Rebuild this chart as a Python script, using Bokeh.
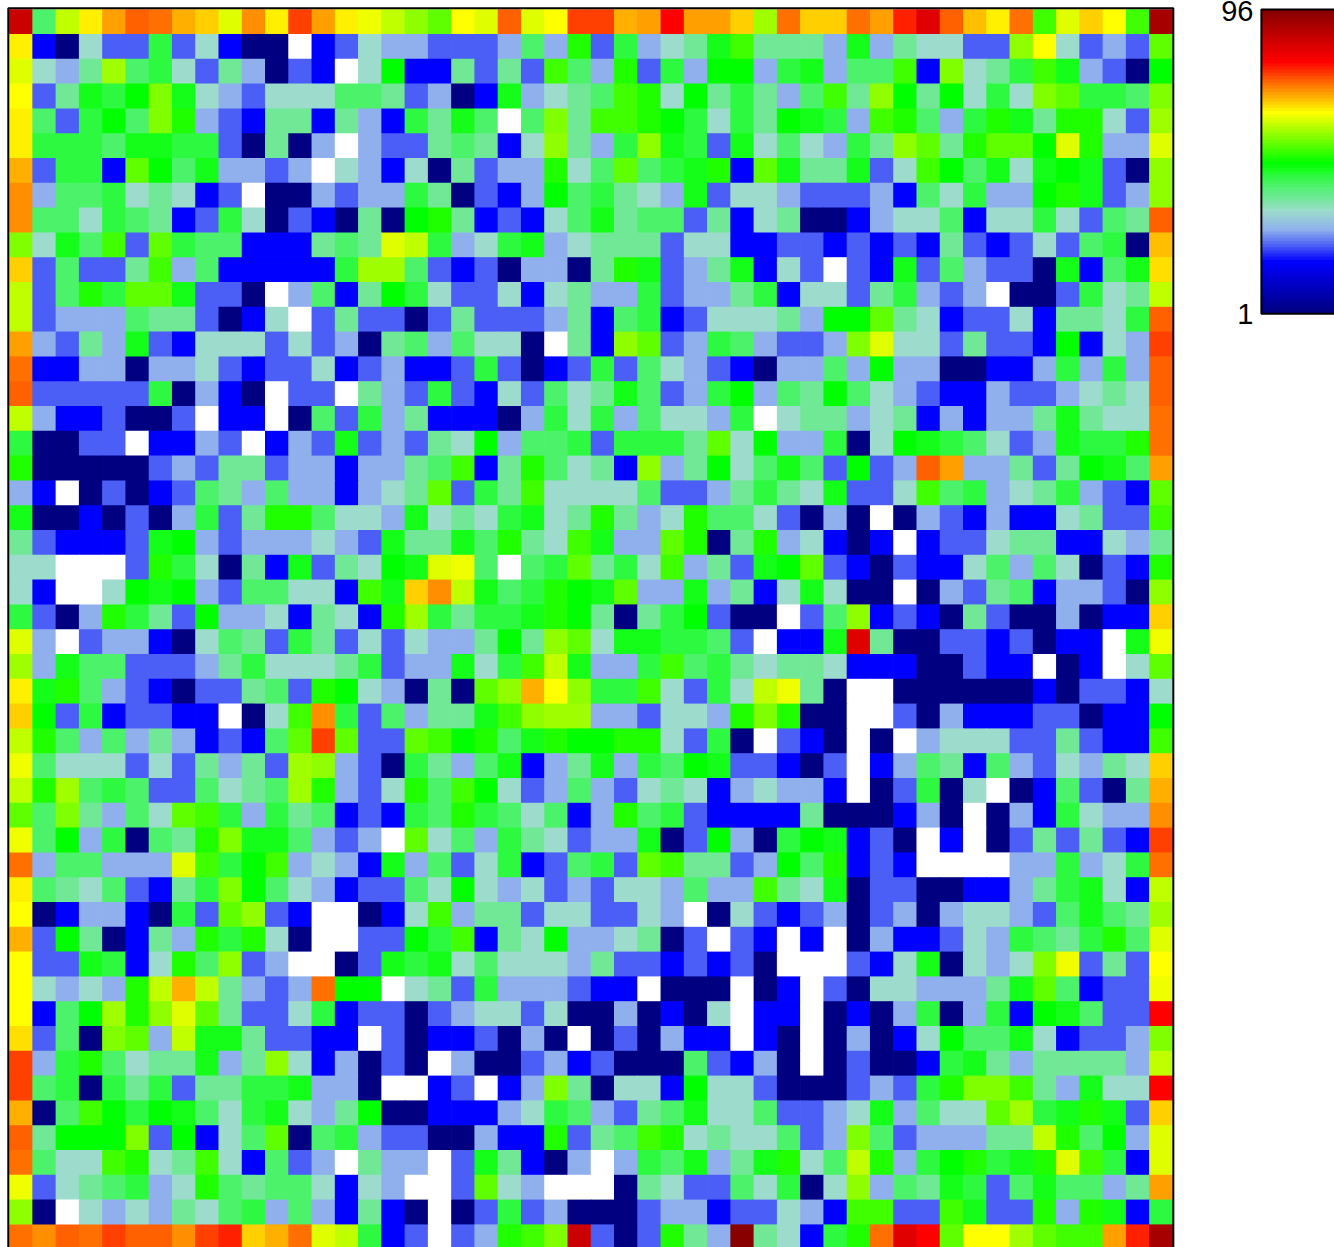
from bokeh.plotting import figure
from bokeh.models import ColumnDataSource, LinearColorMapper, Range1d, FixedTicker, LinearAxis
from bokeh.layouts import row
from bokeh.embed import file_html
from bokeh.resources import INLINE

# Heatmap values, row by row from the top; 0 marks an empty (white) cell.
r01 = [87,41,60,65,70,74,73,69,67,62,71,65,76,70,65,63,60,57,54,64,62,74,62,64,76,76,69,70,80,70,70,67,58,73,67,67,73,70,78,84,74,68,65,73,52,62,67,64,52,92]
r02 = [65,17,1,33,22,22,44,22,33,17,1,1,0,17,22,33,27,27,22,22,22,27,41,27,50,22,44,27,33,37,46,52,37,37,37,27,46,27,37,33,33,22,22,57,64,33,22,27,22,54]
r03 = [62,33,27,37,58,41,44,33,22,37,27,1,22,17,0,33,48,17,17,37,22,37,22,52,41,27,50,22,44,27,48,48,27,44,46,27,41,41,52,17,56,33,37,44,52,46,27,22,1,48]
r04 = [64,22,37,46,44,48,56,46,33,27,22,33,33,33,41,41,37,22,27,1,17,46,27,33,37,41,52,50,33,48,37,44,37,27,41,52,37,57,48,37,48,33,44,33,56,54,44,44,41,56]
r05 = [65,41,22,44,48,41,56,50,27,22,17,37,37,17,37,27,17,44,37,46,41,0,41,56,37,52,52,50,48,44,33,44,37,48,46,44,27,52,50,41,27,44,50,46,37,50,50,33,22,58]
r06 = [65,44,44,44,41,46,46,44,44,22,1,37,1,27,0,27,22,22,37,41,37,17,33,57,37,27,44,57,46,44,22,46,33,41,33,27,44,37,57,54,37,50,54,54,48,62,50,27,27,62]
r07 = [69,22,44,44,17,54,48,41,46,27,27,22,27,0,33,27,17,33,1,37,22,27,27,50,33,41,54,41,44,46,50,17,54,46,37,37,46,22,33,52,48,41,46,33,46,48,46,22,1,57]
r08 = [71,27,41,41,44,33,37,33,17,22,0,1,1,27,22,27,27,44,37,1,22,17,27,48,41,44,37,33,27,46,22,33,33,27,22,22,22,27,17,41,33,44,27,27,48,50,46,22,27,57]
r09 = [71,41,41,33,44,41,37,17,22,44,33,1,22,17,1,37,1,48,50,37,17,22,17,33,41,46,37,41,41,22,37,17,33,37,1,1,17,27,33,33,41,17,33,33,44,33,22,41,37,74]
r10 = [56,33,46,41,52,22,54,44,41,41,17,17,17,37,41,37,62,60,44,27,33,44,46,27,33,37,37,37,22,33,33,17,17,22,22,17,22,17,22,17,37,22,17,22,33,22,41,44,1,68]
r11 = [67,22,41,22,22,37,52,27,41,17,17,17,17,17,44,58,58,41,22,17,22,1,27,27,1,37,50,46,22,27,37,46,17,33,22,0,22,17,46,22,41,27,22,22,1,46,17,41,46,66]
r12 = [60,22,41,50,44,54,54,46,22,22,1,0,27,41,17,37,48,44,33,22,22,33,17,33,37,27,27,44,22,27,27,37,44,17,33,33,22,37,44,27,22,27,0,1,1,22,44,33,37,60]
r13 = [60,22,27,27,27,41,37,37,22,1,17,33,0,22,37,22,22,1,22,37,22,22,22,27,37,17,41,44,17,22,33,33,33,37,27,48,48,54,37,33,17,22,22,33,17,37,37,33,44,74]
r14 = [70,27,22,37,27,46,22,17,33,33,33,22,33,22,27,1,37,41,27,41,33,33,1,0,37,17,57,54,22,27,44,41,27,22,22,27,56,62,33,33,22,37,22,22,17,48,17,33,27,76]
r15 = [73,17,17,27,27,1,27,27,33,22,17,22,22,33,17,22,27,17,17,22,44,22,1,17,22,44,22,41,33,27,22,17,1,27,27,41,27,48,27,27,1,1,17,17,27,44,27,44,27,74]
r16 = [74,22,22,22,22,22,44,1,27,17,1,0,22,22,0,37,27,22,44,22,17,33,22,41,33,37,46,41,22,27,44,48,27,41,37,48,41,33,27,22,17,17,27,22,22,27,33,37,33,74]
r17 = [60,27,17,17,22,1,1,22,0,17,17,0,1,41,22,44,27,37,17,17,17,1,27,44,33,44,27,41,33,33,27,44,0,33,37,37,27,33,37,17,27,17,27,27,37,46,37,33,33,73]
r18 = [44,1,1,22,22,0,17,17,27,22,0,17,27,22,46,22,27,22,37,33,48,27,41,41,44,22,44,44,44,37,54,33,48,27,27,44,1,33,48,46,44,41,33,22,27,46,44,44,50,73]
r19 = [50,1,1,1,1,1,22,27,22,37,37,22,27,27,17,27,27,37,41,52,17,37,50,41,33,37,17,57,27,37,48,33,41,46,41,22,48,22,27,74,70,27,27,37,22,37,48,46,41,70]
r20 = [27,17,0,1,22,1,17,22,41,37,27,41,27,27,17,27,33,37,54,22,44,37,52,33,33,33,33,41,22,22,27,37,44,37,33,46,22,22,33,52,41,44,27,33,37,44,27,22,17,54]
r21 = [46,1,1,17,1,22,1,27,44,22,37,50,50,41,33,33,27,46,33,37,33,44,46,33,37,50,37,27,33,50,41,41,33,22,1,27,1,0,1,27,22,17,27,17,17,33,37,22,22,52]
r22 = [37,22,17,17,17,22,46,48,27,22,27,27,27,33,27,22,46,37,37,46,41,50,37,33,52,46,27,27,54,50,1,37,50,27,33,17,1,17,0,17,22,22,33,37,37,17,17,33,27,37]
r23 = [33,33,0,0,0,22,50,44,33,1,37,17,46,22,37,33,48,46,62,63,41,0,41,44,54,37,44,33,52,27,37,22,46,48,54,22,17,1,22,17,17,33,41,27,41,33,1,22,17,50]
r24 = [33,17,0,0,33,48,46,48,27,22,41,41,33,33,17,52,46,67,71,60,46,41,44,50,48,46,54,27,27,46,27,37,17,33,46,33,1,1,0,1,27,22,37,41,17,27,27,22,1,57]
r25 = [44,22,1,27,50,44,37,22,48,27,27,33,17,37,33,17,50,58,44,37,44,44,46,50,48,37,1,37,44,48,22,1,1,0,22,41,57,17,22,17,1,37,22,1,1,27,1,17,17,67]
r26 = [62,27,0,22,27,27,17,1,33,41,37,22,44,37,22,33,22,33,27,27,37,48,37,57,54,33,46,46,44,44,41,22,0,17,17,46,84,37,1,1,22,22,17,22,1,17,17,0,46,63]
r27 = [58,27,46,41,41,22,22,22,27,37,44,33,33,33,37,44,22,27,27,46,33,44,52,60,46,27,27,44,52,41,44,37,33,37,37,33,17,17,17,1,1,22,17,17,0,1,17,0,33,54]
r28 = [65,46,50,41,27,22,17,1,22,22,37,41,22,50,48,33,27,1,37,1,54,57,69,64,57,44,44,52,33,22,44,33,60,63,37,1,0,0,1,1,1,1,1,1,17,1,22,22,17,33]
r29 = [67,48,22,44,17,22,22,17,17,0,1,33,52,71,44,22,41,27,37,37,46,52,57,58,58,27,27,22,33,33,27,50,56,50,1,1,0,0,22,1,27,17,17,17,22,22,1,17,17,48]
r30 = [60,50,41,27,41,27,37,27,17,22,17,41,54,76,54,22,22,54,52,48,50,41,46,50,48,48,50,50,33,22,44,1,0,22,17,1,0,1,0,27,33,33,33,22,22,37,22,17,17,52]
r31 = [63,41,33,33,33,22,33,22,37,27,37,22,58,57,27,22,1,44,37,27,41,46,17,27,37,46,27,44,41,48,46,22,22,17,1,22,0,17,27,41,37,17,41,27,22,33,27,37,33,67]
r32 = [60,50,58,41,44,41,22,22,41,33,37,41,58,50,27,22,33,50,41,52,48,33,22,27,41,27,22,33,37,33,17,27,33,27,27,17,0,1,22,44,1,33,0,1,17,41,22,1,37,69]
r33 = [54,41,56,37,27,41,33,54,52,44,27,44,37,41,17,22,17,44,41,50,44,41,33,41,17,27,50,41,44,22,17,17,17,17,37,1,1,1,17,27,1,0,1,27,17,44,33,27,27,71]
r34 = [63,41,48,27,44,1,41,37,50,56,46,46,41,27,22,27,0,54,33,41,27,44,37,33,22,27,27,46,1,22,48,27,1,44,48,46,17,22,1,0,17,0,1,22,37,22,37,22,17,76]
r35 = [73,27,41,41,27,27,27,62,52,44,48,52,27,33,27,17,46,27,41,22,33,44,17,22,41,44,22,54,52,37,37,22,27,48,41,50,17,22,17,0,0,0,0,27,27,44,27,33,44,73]
r36 = [65,41,37,33,41,22,17,37,44,56,48,41,33,27,17,22,22,41,33,48,33,27,33,22,27,22,33,33,27,41,27,27,52,37,33,46,1,22,22,1,1,17,17,27,37,44,46,33,17,60]
r37 = [64,1,17,27,27,17,1,44,22,54,57,22,17,0,0,1,17,33,52,27,37,37,22,33,33,22,22,33,27,0,1,33,22,17,22,27,1,22,27,1,27,33,33,27,22,41,46,41,37,58]
r38 = [69,22,48,37,1,17,37,27,50,44,50,33,1,0,0,22,22,48,44,52,17,37,33,48,27,27,33,37,1,22,0,22,17,0,17,0,1,27,17,17,22,33,27,44,41,37,44,50,41,62]
r39 = [64,22,22,46,44,17,33,50,41,57,22,27,0,0,1,22,46,44,46,33,41,33,33,33,27,37,22,22,17,22,17,22,1,0,0,0,22,17,33,46,1,33,27,33,56,63,22,37,22,64]
r40 = [64,33,27,33,27,50,60,69,60,37,27,22,27,73,48,48,0,33,37,22,44,27,27,27,22,17,17,0,1,1,1,0,1,17,0,22,1,33,33,27,27,27,37,46,54,41,17,22,22,63]
r41 = [64,17,41,48,58,50,57,62,54,37,22,22,33,44,17,22,22,1,22,27,33,33,22,33,1,1,27,1,17,1,33,0,17,17,0,1,17,1,27,44,1,27,44,17,48,46,41,22,22,80]
r42 = [66,22,41,1,56,54,27,60,46,46,37,22,22,17,17,0,22,1,17,17,22,1,27,1,0,1,22,1,27,17,17,0,17,1,0,1,27,1,17,33,48,41,41,46,33,17,22,22,27,56]
r43 = [76,27,44,50,41,33,37,37,46,27,37,57,33,17,27,1,22,1,0,27,1,1,22,27,17,22,1,1,1,41,22,17,27,1,0,1,22,1,1,17,44,46,37,27,37,37,37,37,27,60]
r44 = [76,41,44,1,44,37,44,22,37,37,44,44,46,27,27,1,0,0,17,22,0,17,27,56,37,1,33,33,17,48,33,33,22,1,1,1,22,27,22,44,50,56,56,52,37,27,46,33,33,80]
r45 = [69,1,41,52,48,44,48,46,41,33,44,46,33,27,37,48,1,1,17,17,17,27,33,44,41,27,22,37,41,46,33,33,41,22,22,27,33,46,27,41,33,33,54,58,44,46,50,46,22,67]
r46 = [74,37,48,48,48,56,22,48,17,33,41,54,1,41,44,27,22,22,1,1,27,17,17,50,22,37,41,52,50,33,37,33,33,41,22,27,56,41,22,27,27,27,37,37,60,50,41,48,27,62]
r47 = [73,41,33,33,52,50,33,37,52,33,17,41,22,27,0,37,27,27,0,22,46,37,17,1,27,0,27,44,41,46,27,37,46,50,33,41,60,50,27,44,48,50,44,46,50,62,52,44,17,62]
r48 = [63,22,33,37,41,44,27,33,50,41,37,41,41,33,17,33,27,0,0,22,54,33,27,0,0,0,1,37,33,22,22,41,33,44,1,33,57,27,41,37,46,44,22,41,46,41,41,27,37,70]
r49 = [57,1,0,33,27,33,27,37,33,41,44,27,41,27,17,37,17,1,0,1,22,44,22,27,1,1,1,22,27,27,17,22,22,33,27,17,52,52,22,22,52,46,22,22,50,27,50,46,17,44]
r50 = [73,71,74,73,76,74,74,71,76,78,67,69,73,62,60,44,17,22,0,22,27,50,52,56,87,22,1,22,50,37,27,96,37,33,17,44,50,73,84,80,54,64,64,58,54,52,52,70,78,92]

rows = [r01,r02,r03,r04,r05,r06,r07,r08,r09,r10,r11,r12,r13,r14,r15,r16,r17,r18,r19,r20,
        r21,r22,r23,r24,r25,r26,r27,r28,r29,r30,r31,r32,r33,r34,r35,r36,r37,r38,r39,r40,
        r41,r42,r43,r44,r45,r46,r47,r48,r49,r50]
scale_min = 1
scale_max = 96
scale_labels = {"low": "1", "high": "96"}

# colour scale: anchors (value, r, g, b), one palette entry per level 1..96
anchors = [(1,0,0,128),(17,0,0,255),(22,75,94,245),(27,143,176,237),(33,157,220,204),
           (37,112,232,150),(41,76,242,106),(44,44,249,63),(46,20,254,26),(48,0,255,0),
           (64,255,255,0),(80,255,0,0),(96,136,0,0)]
def colour(v):
    for (a,r0,g0,b0),(b,r1,g1,b1) in zip(anchors, anchors[1:]):
        if a <= v <= b:
            t = (v-a)/(b-a)
            return "#%02x%02x%02x" % (round(r0+(r1-r0)*t), round(g0+(g1-g0)*t), round(b0+(b1-b0)*t))
palette = [colour(v) for v in range(scale_min, scale_max+1)]
mapper = LinearColorMapper(palette=palette, low=scale_min-0.5, high=scale_max+0.5, low_color="white")

# heatmap: later cells overlap earlier ones a little, so no seams show
overlap = 0.03
left, right, top, bottom, vs = [], [], [], [], []
for j, line in enumerate(rows):
    for i, val in enumerate(line):
        left.append(i); right.append(i+1+overlap)
        top.append(j); bottom.append(j+1+overlap)
        vs.append(val)
src = ColumnDataSource(dict(left=left, right=right, top=top, bottom=bottom, v=vs))

px_col = 23.266
px_row = 24.8
W, H = 1176, 1247
x0 = -8.6/px_col
y0 = -8.7/px_row
p = figure(width=W, height=H, output_backend="svg", toolbar_location=None,
           x_range=Range1d(x0, x0+W/px_col), y_range=Range1d(y0+H/px_row, y0),
           min_border=0, x_axis_type=None, y_axis_type=None,
           outline_line_color=None, background_fill_color="white", border_fill_color="white")
p.grid.visible = False
p.quad(left="left", right="right", top="top", bottom="bottom", source=src,
       fill_color={"field":"v","transform":mapper}, line_color=None)
p.quad(left=[-0.035], right=[50.04], top=[-0.035], bottom=[50.2], fill_alpha=0, line_color="black", line_width=2)

# colour bar
levels = list(range(scale_min, scale_max+1))
step = (scale_max-scale_min)/len(levels)
bar = ColumnDataSource(dict(bottom=[scale_min+i*step for i in range(len(levels))],
                            top=[min(scale_max, scale_min+(i+1.4)*step) for i in range(len(levels))],
                            v=levels))
py = 304.3/(scale_max-scale_min)
frame_w = 76
CH = 330
c = figure(width=158, height=CH, output_backend="svg", toolbar_location=None,
           x_range=Range1d(-3/frame_w, 1), y_range=Range1d(scale_min-(CH-313.3)/py, scale_max+9/py),
           min_border_left=82, min_border_right=0, min_border_top=0, min_border_bottom=0,
           x_axis_type=None, y_axis_type=None,
           outline_line_color=None, background_fill_color="white", border_fill_color="white")
c.grid.visible = False
c.quad(left=0, right=1.1, bottom="bottom", top="top", source=bar,
       fill_color={"field":"v","transform":mapper}, line_color=None)
c.quad(left=[0], right=[1.2], bottom=[scale_min], top=[scale_max], fill_alpha=0, line_color="black", line_width=2)
tick_hi = scale_max-0.6
ax = LinearAxis(ticker=FixedTicker(ticks=[scale_min, tick_hi]),
                major_label_overrides={scale_min: scale_labels["low"], tick_hi: scale_labels["high"]},
                axis_line_color=None, major_tick_line_color=None, minor_tick_line_color=None,
                major_tick_in=0, major_tick_out=0,
                major_label_text_font="Liberation Sans", major_label_text_font_size="29px",
                major_label_text_color="black", major_label_standoff=5)
c.add_layout(ax, "left")

layout = row(p, c, spacing=0)
open("out.html", "w").write(file_html(layout, INLINE))
